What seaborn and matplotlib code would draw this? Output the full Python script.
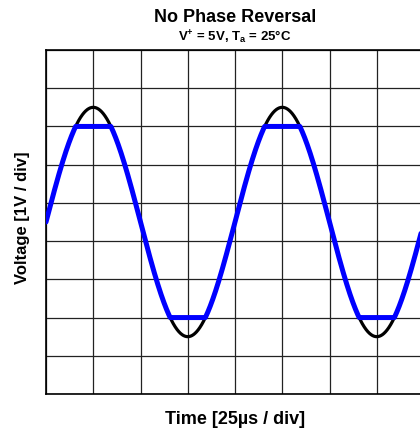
import numpy as np
import pandas as pd
import matplotlib
matplotlib.use("Agg")
import matplotlib.pyplot as plt
import seaborn as sns

# Values (in divisions)
input_offset = 4.5       # centre level of the input sine [div]
input_amplitude = 3.0    # amplitude of the input sine [div]
input_period = 4.0       # period [div]
first_peak_time = 1.0    # time of first positive peak [div]
output_high = 7.0        # output clip level high [div]
output_low = 2.0         # output clip level low [div]
x_divisions = 8
y_divisions = 9

title_text = "No Phase Reversal"
subtitle_text = r"V$^{+}$ = 5V, T$_{\mathrm{a}}$ = 25°C"
xlabel_text = "Time [25µs / div]"
ylabel_text = "Voltage [1V / div]"

t = np.linspace(0, x_divisions, 1601)
v_in = input_offset + input_amplitude * np.cos(2 * np.pi * (t - first_peak_time) / input_period)
v_out = np.clip(v_in, output_low, output_high)
df = pd.DataFrame({"t": np.concatenate([t, t]),
                   "v": np.concatenate([v_in, v_out]),
                   "sig": ["in"] * len(t) + ["out"] * len(t)})

sns.set_style("white")
plt.rcParams["font.family"] = ["Liberation Sans", "DejaVu Sans"]
plt.rcParams["text.color"] = "black"
plt.rcParams["axes.labelcolor"] = "black"
plt.rcParams["mathtext.fontset"] = "custom"
plt.rcParams["mathtext.rm"] = "Liberation Sans:bold"
plt.rcParams["mathtext.it"] = "Liberation Sans:bold"
plt.rcParams["mathtext.bf"] = "Liberation Sans:bold"
plt.rcParams["mathtext.default"] = "rm"

fig = plt.figure(figsize=(4.2, 4.3), dpi=100)
ax = fig.add_axes([46 / 420, 36 / 430, 378 / 420, 344 / 430])

sns.lineplot(data=df[df.sig == "in"], x="t", y="v", ax=ax, color="black",
             linewidth=2.3, legend=False, zorder=3)
sns.lineplot(data=df[df.sig == "out"], x="t", y="v", ax=ax, color="#0000ff",
             linewidth=3.6, legend=False, zorder=4)

ax.set_xlim(0, x_divisions)
ax.set_ylim(0, y_divisions)
ax.set_xticks(np.arange(0, x_divisions + 1))
ax.set_yticks(np.arange(0, y_divisions + 1))
ax.grid(True, color="#222222", linewidth=0.9)
ax.tick_params(length=0, labelbottom=False, labelleft=False)
ax.set_xlabel("")
ax.set_ylabel("")
for s in ax.spines.values():
    s.set_color("black")
    s.set_linewidth(1.2)

fig.text(235 / 420, 1 - 419 / 430, xlabel_text, ha="center", va="center",
         fontsize=13, fontweight="bold", color="black")
fig.text(23 / 420, 1 - 218 / 430, ylabel_text, ha="center", va="center",
         rotation=90, fontsize=12, fontweight="bold", color="black")
fig.text(235 / 420, 1 - 18 / 430, title_text, ha="center", va="center",
         fontsize=13, fontweight="bold", color="black")
fig.text(235 / 420, 1 - 37 / 430, subtitle_text, ha="center", va="center",
         fontsize=9.5, fontweight="bold", color="black")

fig.savefig("out.png", dpi=100)
